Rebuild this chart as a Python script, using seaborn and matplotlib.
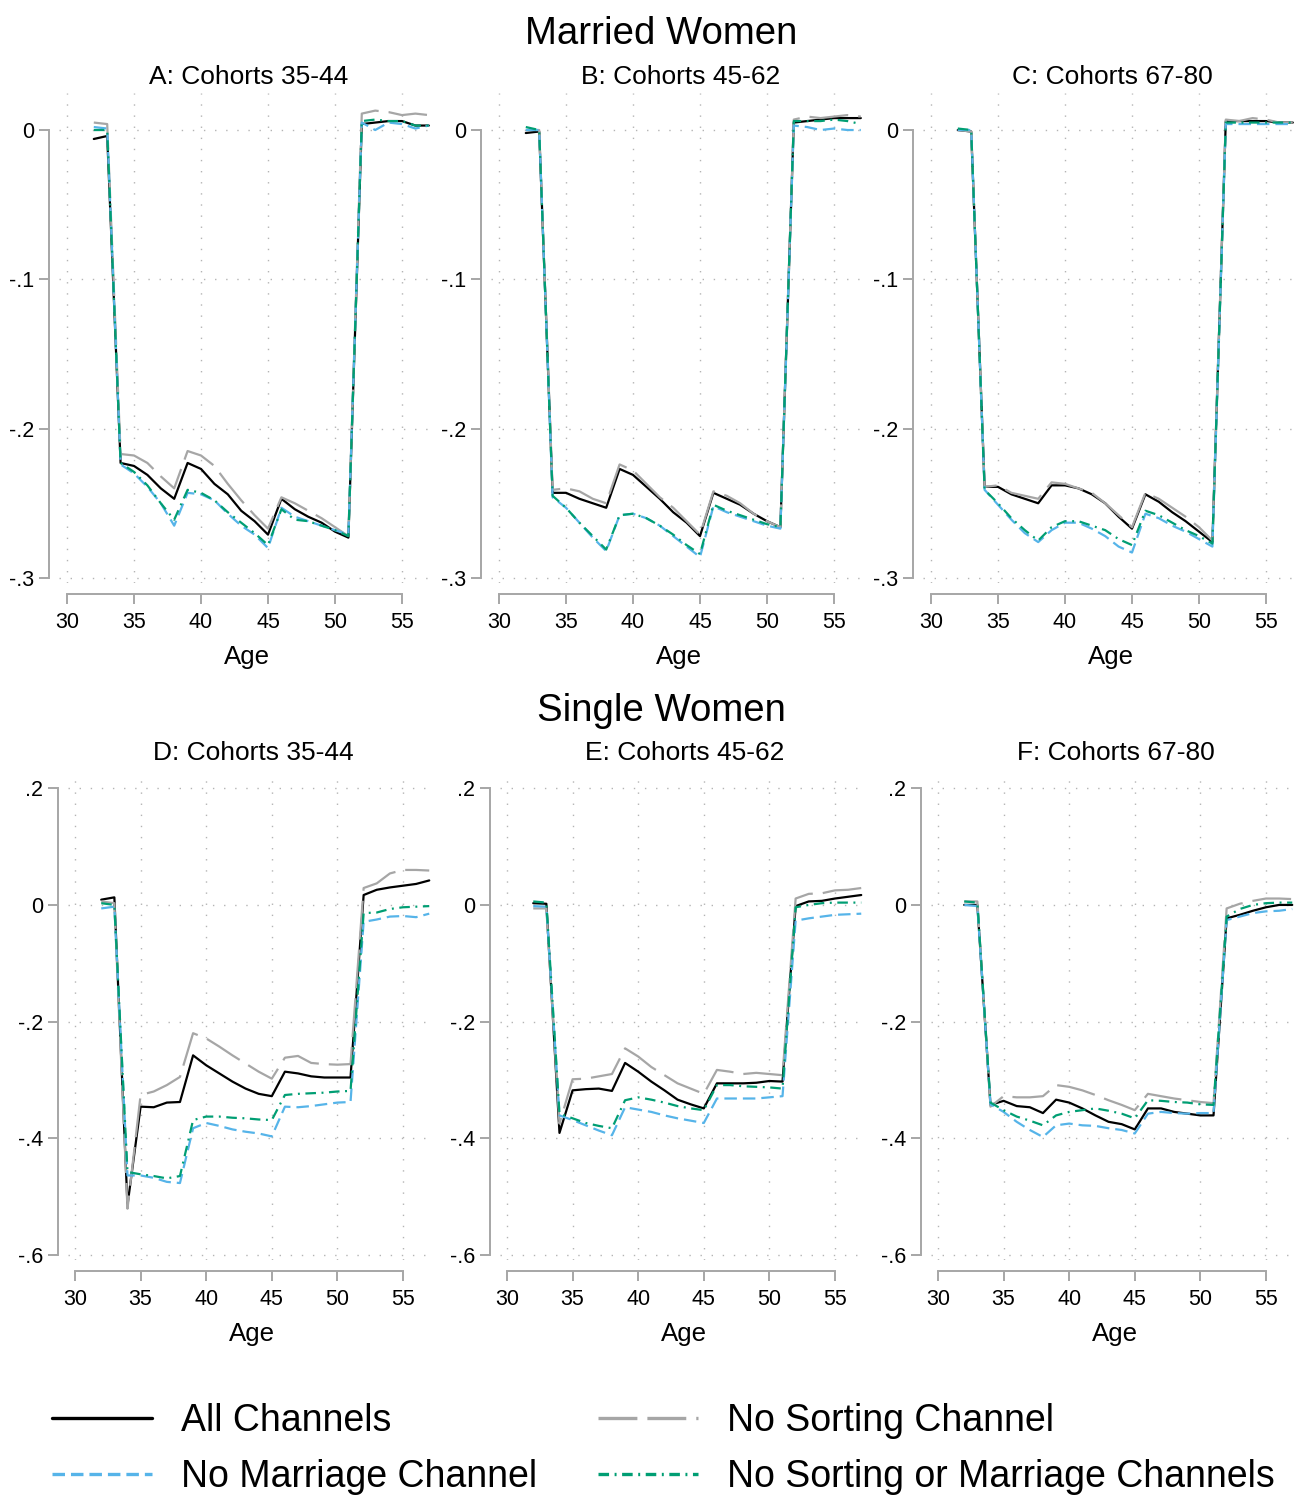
import matplotlib
matplotlib.use("Agg")
import matplotlib.pyplot as plt
from matplotlib.lines import Line2D
import numpy as np
import pandas as pd
import seaborn as sns

# ---------------- data ----------------
ages = list(range(32, 58))
series_names = ["All Channels", "No Sorting Channel", "No Marriage Channel",
                "No Sorting or Marriage Channels"]

# Married women
mA_all = [-0.006,-0.004,-0.223,-0.225,-0.231,-0.240,-0.247,-0.223,-0.227,-0.237,-0.244,-0.255,-0.262,-0.271,-0.247,-0.254,-0.259,-0.263,-0.269,-0.273,0.004,0.005,0.006,0.006,0.003,0.003]
mA_nosort = [0.005,0.004,-0.217,-0.218,-0.223,-0.232,-0.240,-0.215,-0.218,-0.225,-0.237,-0.248,-0.258,-0.267,-0.246,-0.250,-0.255,-0.260,-0.266,-0.272,0.011,0.013,0.012,0.010,0.011,0.010]
mA_nomar = [0.002,0.001,-0.224,-0.230,-0.239,-0.250,-0.265,-0.243,-0.244,-0.248,-0.257,-0.265,-0.271,-0.280,-0.253,-0.259,-0.262,-0.265,-0.268,-0.271,0.005,0.000,0.005,0.004,0.001,0.003]
mA_none = [0.000,0.000,-0.223,-0.229,-0.238,-0.250,-0.261,-0.241,-0.243,-0.248,-0.256,-0.263,-0.270,-0.278,-0.254,-0.261,-0.262,-0.265,-0.268,-0.272,0.006,0.007,0.006,0.006,0.003,0.003]

mB_all = [-0.002,-0.001,-0.243,-0.243,-0.247,-0.250,-0.253,-0.227,-0.231,-0.239,-0.247,-0.256,-0.263,-0.272,-0.243,-0.247,-0.251,-0.257,-0.262,-0.266,0.005,0.006,0.007,0.008,0.008,0.008]
mB_nosort = [0.000,0.000,-0.241,-0.240,-0.242,-0.247,-0.250,-0.224,-0.228,-0.237,-0.246,-0.253,-0.262,-0.271,-0.242,-0.245,-0.250,-0.257,-0.262,-0.266,0.007,0.009,0.008,0.009,0.010,0.009]
mB_nomar = [0.000,0.000,-0.246,-0.253,-0.263,-0.273,-0.282,-0.258,-0.257,-0.260,-0.265,-0.272,-0.279,-0.286,-0.252,-0.256,-0.259,-0.262,-0.265,-0.267,0.003,0.002,0.000,0.001,0.000,0.000]
mB_none = [0.002,0.000,-0.245,-0.253,-0.263,-0.272,-0.281,-0.258,-0.257,-0.260,-0.265,-0.271,-0.278,-0.284,-0.251,-0.255,-0.258,-0.261,-0.264,-0.266,0.006,0.006,0.006,0.007,0.006,0.004]

mC_all = [0.000,-0.001,-0.239,-0.239,-0.244,-0.247,-0.250,-0.238,-0.238,-0.240,-0.244,-0.250,-0.259,-0.267,-0.244,-0.249,-0.256,-0.262,-0.269,-0.276,0.006,0.006,0.006,0.006,0.005,0.005]
mC_nosort = [0.000,-0.001,-0.239,-0.238,-0.243,-0.245,-0.247,-0.236,-0.237,-0.240,-0.243,-0.250,-0.258,-0.266,-0.243,-0.247,-0.253,-0.259,-0.266,-0.275,0.007,0.006,0.008,0.007,0.005,0.005]
mC_nomar = [0.000,0.000,-0.241,-0.251,-0.261,-0.270,-0.276,-0.268,-0.263,-0.263,-0.267,-0.272,-0.279,-0.283,-0.257,-0.260,-0.265,-0.269,-0.274,-0.279,0.004,0.004,0.004,0.004,0.004,0.004]
mC_none = [0.001,0.000,-0.241,-0.250,-0.260,-0.268,-0.275,-0.266,-0.262,-0.262,-0.265,-0.268,-0.274,-0.278,-0.255,-0.258,-0.263,-0.268,-0.272,-0.277,0.005,0.005,0.005,0.005,0.005,0.005]

# Single women
sD_all = [0.009,0.013,-0.515,-0.346,-0.347,-0.339,-0.338,-0.258,-0.275,-0.289,-0.303,-0.315,-0.324,-0.328,-0.286,-0.289,-0.294,-0.296,-0.296,-0.296,0.017,0.026,0.030,0.033,0.036,0.042]
sD_nosort = [0.006,0.003,-0.521,-0.326,-0.320,-0.309,-0.295,-0.220,-0.229,-0.243,-0.258,-0.272,-0.286,-0.298,-0.262,-0.259,-0.271,-0.273,-0.274,-0.273,0.029,0.037,0.054,0.060,0.060,0.059]
sD_nomar = [-0.006,-0.003,-0.464,-0.464,-0.468,-0.475,-0.477,-0.383,-0.374,-0.379,-0.385,-0.389,-0.392,-0.397,-0.346,-0.347,-0.345,-0.342,-0.339,-0.338,-0.029,-0.025,-0.020,-0.019,-0.021,-0.015]
sD_none = [0.003,0.000,-0.458,-0.462,-0.465,-0.469,-0.465,-0.369,-0.363,-0.363,-0.365,-0.366,-0.368,-0.369,-0.326,-0.324,-0.323,-0.322,-0.320,-0.319,-0.014,-0.013,-0.007,-0.004,-0.003,-0.002]

sE_all = [0.003,0.002,-0.391,-0.318,-0.316,-0.315,-0.319,-0.271,-0.286,-0.303,-0.318,-0.334,-0.342,-0.349,-0.306,-0.306,-0.306,-0.305,-0.302,-0.303,-0.002,0.006,0.007,0.011,0.014,0.017]
sE_nosort = [-0.006,-0.006,-0.375,-0.299,-0.298,-0.294,-0.290,-0.246,-0.260,-0.278,-0.292,-0.306,-0.315,-0.324,-0.283,-0.286,-0.290,-0.288,-0.290,-0.292,0.011,0.019,0.020,0.025,0.026,0.029]
sE_nomar = [-0.002,-0.003,-0.361,-0.369,-0.378,-0.387,-0.395,-0.347,-0.351,-0.355,-0.361,-0.366,-0.370,-0.374,-0.332,-0.332,-0.332,-0.332,-0.330,-0.328,-0.027,-0.023,-0.020,-0.017,-0.016,-0.015]
sE_none = [0.006,0.004,-0.358,-0.366,-0.374,-0.379,-0.383,-0.335,-0.330,-0.334,-0.339,-0.345,-0.349,-0.352,-0.309,-0.309,-0.311,-0.312,-0.313,-0.315,-0.004,0.000,0.003,0.004,0.004,0.004]

sF_all = [0.000,0.000,-0.343,-0.336,-0.345,-0.347,-0.357,-0.334,-0.339,-0.349,-0.361,-0.372,-0.376,-0.385,-0.349,-0.349,-0.355,-0.358,-0.361,-0.361,-0.023,-0.017,-0.010,-0.004,0.000,0.000]
sF_nosort = [0.006,0.006,-0.346,-0.328,-0.330,-0.330,-0.328,-0.309,-0.312,-0.318,-0.326,-0.335,-0.343,-0.352,-0.324,-0.328,-0.332,-0.335,-0.338,-0.340,-0.006,0.002,0.007,0.011,0.011,0.010]
sF_nomar = [0.000,-0.002,-0.342,-0.355,-0.372,-0.386,-0.398,-0.378,-0.375,-0.378,-0.379,-0.383,-0.386,-0.392,-0.358,-0.355,-0.357,-0.358,-0.357,-0.357,-0.026,-0.020,-0.014,-0.011,-0.010,-0.007]
sF_none = [0.006,0.004,-0.339,-0.352,-0.363,-0.370,-0.378,-0.361,-0.355,-0.352,-0.349,-0.353,-0.358,-0.366,-0.335,-0.336,-0.338,-0.339,-0.342,-0.343,-0.020,-0.007,0.000,0.003,0.004,0.004]

panel_titles = ["A: Cohorts 35-44", "B: Cohorts 45-62", "C: Cohorts 67-80",
                "D: Cohorts 35-44", "E: Cohorts 45-62", "F: Cohorts 67-80"]
row_titles = ["Married Women", "Single Women"]
x_ticks = [30, 35, 40, 45, 50, 55]
top_yticks = [0, -0.1, -0.2, -0.3]
top_ylabels = ["0", "-.1", "-.2", "-.3"]
bot_yticks = [0.2, 0, -0.2, -0.4, -0.6]
bot_ylabels = [".2", "0", "-.2", "-.4", "-.6"]

panels = [
    (mA_all, mA_nosort, mA_nomar, mA_none),
    (mB_all, mB_nosort, mB_nomar, mB_none),
    (mC_all, mC_nosort, mC_nomar, mC_none),
    (sD_all, sD_nosort, sD_nomar, sD_none),
    (sE_all, sE_nosort, sE_nomar, sE_none),
    (sF_all, sF_nosort, sF_nomar, sF_none),
]

# ---------------- style ----------------
sns.set_theme(style="white")
plt.rcParams["font.family"] = ["Liberation Sans", "DejaVu Sans"]
plt.rcParams["lines.scale_dashes"] = False
plt.rcParams["text.color"] = "black"
plt.rcParams["axes.labelcolor"] = "black"

palette = {"All Channels": "black", "No Sorting Channel": "#a6a6a6",
           "No Marriage Channel": "#56b4e9", "No Sorting or Marriage Channels": "#009e73"}
dashes = {"All Channels": "", "No Sorting Channel": (28, 7.2),
          "No Marriage Channel": (9.0, 4.3),
          "No Sorting or Marriage Channels": (7.6, 4.0, 1.4, 4.0)}
AX_GRAY = "#a6a6a6"

W, H = 1299, 1495
fig = plt.figure(figsize=(W / 100, H / 100), dpi=100)


def add_px_axes(left, top, width, height):
    return fig.add_axes([left / W, 1 - (top + height) / H, width / W, height / H])


# layout in pixels
top_x30 = [67, 499, 931]
bot_x30 = [75, 507, 938]
layouts = []
for x30 in top_x30:
    layouts.append(dict(left=x30 - 0.6 * 13.4, top=93, width=28.05 * 13.4, height=490,
                        xlim=(29.4, 57.45), ylim=(-0.3034, 0.0248),
                        yt=top_yticks, yl=top_ylabels, yb=(-0.3, 0)))
for x30 in bot_x30:
    layouts.append(dict(left=x30 - 0.55 * 13.12, top=772, width=28.0 * 13.12, height=488,
                        xlim=(29.45, 57.45), ylim=(-0.609, 0.228),
                        yt=bot_yticks, yl=bot_ylabels, yb=(-0.6, 0.2)))

for i, (vals, lay) in enumerate(zip(panels, layouts)):
    ax = add_px_axes(lay["left"], lay["top"], lay["width"], lay["height"])
    df = pd.DataFrame({
        "Age": ages * 4,
        "value": [v for s in vals for v in s],
        "series": [n for n in series_names for _ in ages],
    })
    sns.lineplot(data=df, x="Age", y="value", hue="series", style="series",
                 hue_order=series_names, style_order=series_names,
                 palette=palette, dashes=dashes, linewidth=1.6,
                 legend=False, ax=ax, estimator=None)
    ax.set_xlim(*lay["xlim"])
    ax.set_ylim(*lay["ylim"])
    ax.set_xticks(x_ticks)
    ax.set_xticklabels([str(t) for t in x_ticks])
    ax.set_yticks(lay["yt"])
    ax.set_yticklabels(lay["yl"])
    ax.set_ylabel("")
    ax.set_xlabel("Age", fontsize=18.6, labelpad=8.5, color="black")
    ax.set_facecolor("white")
    ax.grid(True, color="#b4b4b4", linestyle=(0, (1.0, 7.0)), linewidth=1.0)
    ax.set_axisbelow(True)
    for side in ("top", "right"):
        ax.spines[side].set_visible(False)
    ax.spines["left"].set_position(("outward", 7))
    ax.spines["bottom"].set_position(("outward", 8))
    ax.spines["left"].set_bounds(*lay["yb"])
    ax.spines["bottom"].set_bounds(30, 55)
    for side in ("left", "bottom"):
        ax.spines[side].set_color(AX_GRAY)
        ax.spines[side].set_linewidth(1.4)
    ax.tick_params(axis="both", direction="out", length=7, width=1.4, color=AX_GRAY,
                   labelsize=15.5, labelcolor="black")
    ax.tick_params(axis="x", pad=6, bottom=True)
    ax.tick_params(axis="y", pad=4, left=True)
    cx = (lay["left"] + lay["width"] / 2 + 1.5) / W
    base = 84 if i < 3 else 760
    fig.text(cx, 1 - base / H, panel_titles[i], ha="center", va="baseline",
             fontsize=19, color="black")

fig.text(661 / W, 1 - 44 / H, row_titles[0], ha="center", va="baseline",
         fontsize=27.6, color="black")
fig.text(661 / W, 1 - 721 / H, row_titles[1], ha="center", va="baseline",
         fontsize=27.6, color="black")

# legend
leg_order = ["All Channels", "No Marriage Channel", "No Sorting Channel",
             "No Sorting or Marriage Channels"]
handles = []
for n in leg_order:
    h = Line2D([0], [0], color=palette[n], linewidth=2.4, linestyle="-")
    if dashes[n]:
        h.set_dashes(dashes[n])
    handles.append(h)
leg = fig.legend(handles, leg_order, ncol=2, loc="upper left",
                 bbox_to_anchor=(52 / W, 1 - 1403 / H), frameon=False, fontsize=27,
                 handlelength=2.67, handletextpad=0.77, columnspacing=1.63,
                 labelspacing=0.54, borderpad=0, borderaxespad=0)
for t in leg.get_texts():
    t.set_color("black")

fig.savefig("out.png", dpi=100, facecolor="white")
